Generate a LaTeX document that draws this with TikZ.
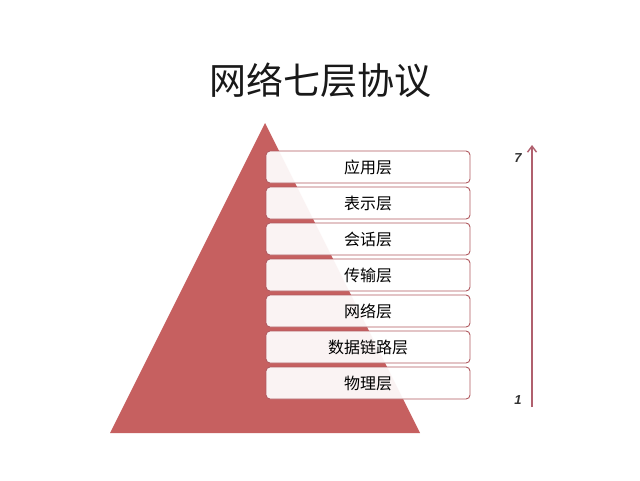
\documentclass[tikz,border=0pt]{standalone}
\usepackage{fontspec}
\newfontfamily\cjk{Noto Sans CJK SC}
\newfontfamily\numfont{Liberation Sans}
\usetikzlibrary{arrows.meta}

\begin{document}
\begin{tikzpicture}[x=1pt, y=-1pt, every node/.style={inner sep=0pt}]

\colorlet{PyramidRed}{rgb,255:red,198;green,96;blue,96}
\colorlet{LayerEdge}{rgb,255:red,176;green,90;blue,96}
\colorlet{ArrowMauve}{rgb,255:red,176;green,96;blue,110}

\tikzset{
  layerbox/.style={draw=LayerEdge, line width=0.9pt, fill=white, fill opacity=0.93,
    text opacity=1, rounded corners=4pt, minimum width=204pt, minimum height=32pt,
    font=\cjk\fontsize{16}{16}\selectfont, text=black},
  countlabel/.style={font=\numfont\bfseries\itshape\fontsize{13}{13}\selectfont, text=black!80}
}

\useasboundingbox (0,0) rectangle (640,480);
\fill[white] (0,0) rectangle (640,480);

% Title
\node[font=\cjk\fontsize{37}{37}\selectfont, text=black!90] (title) at (320,80) {网络七层协议};

% Pyramid
\fill[PyramidRed] (265,123) -- (420,433) -- (110,433) -- cycle;

% Layers
\foreach \name [count=\i] in {应用层,表示层,会话层,传输层,网络层,数据链路层,物理层}
{
     \node[layerbox] (layer\i) at (368,131+36*\i) {\name};
}

% Arrow with counts
\coordinate (low)  at (532,407);
\coordinate (high) at (532,145);
\draw[ArrowMauve, line width=1.4pt, -{Straight Barb[length=6pt,width=9pt]}] (low) -- (high);

\node[countlabel] (seven) at (518,158) {7};
\node[countlabel] (one)   at (518,400) {1};
\end{tikzpicture}
\end{document}
